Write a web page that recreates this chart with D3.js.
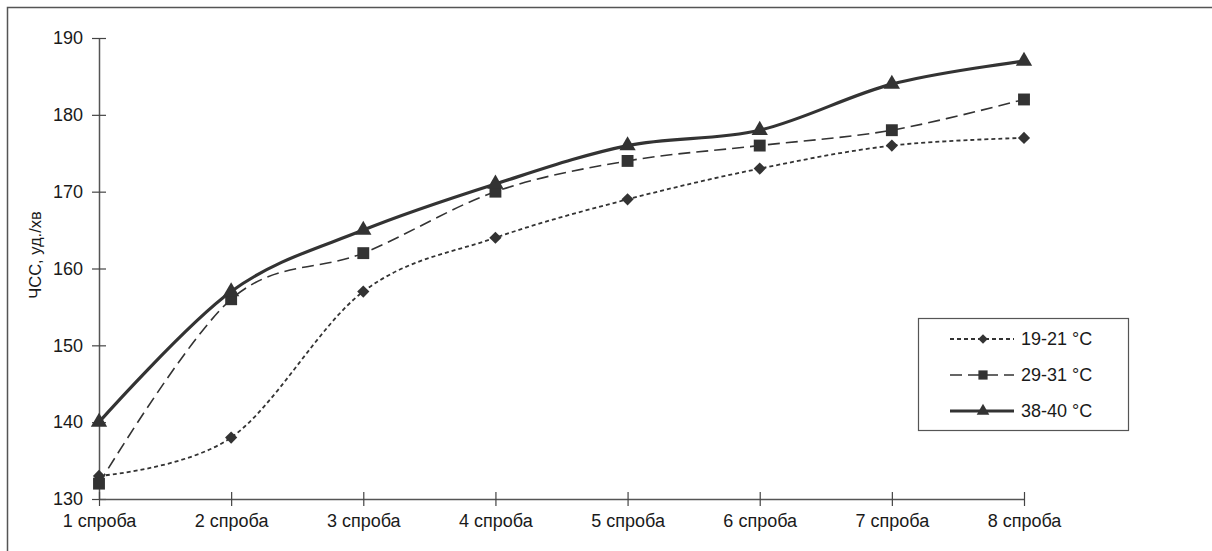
<!DOCTYPE html>
<html><head><meta charset="utf-8">
<script src="https://cdn.jsdelivr.net/npm/d3@7"></script>
<style>body{margin:0;background:#fff}svg{display:block}</style>
</head><body>
<script>
const categories = ["1 спроба","2 спроба","3 спроба","4 спроба","5 спроба","6 спроба","7 спроба","8 спроба"];
const yTicks = [130,140,150,160,170,180,190];
const seriesNames = ["19-21 °C","29-31 °C","38-40 °C"];
const s1 = [133,138,157,164,169,173,176,177];
const s2 = [132,156,162,170,174,176,178,182];
const s3 = [140,157,165,171,176,178,184,187];
const yTitle = "ЧСС, уд./хв";

const W=1212,H=551;
const svg=d3.select("body").append("svg").attr("width",W).attr("height",H);
const col="#333";
svg.append("rect").attr("x",7.5).attr("y",7.5).attr("width",W+20).attr("height",H+20)
  .attr("fill","none").attr("stroke","#555").attr("stroke-width",1.5);

const x=d3.scalePoint().domain(categories).range([99,1024]);
const y=d3.scaleLinear().domain([130,190]).range([499,38]);

const font="'Liberation Sans', Arial, sans-serif";
const ya=svg.append("g").attr("transform","translate(99,0)")
  .call(d3.axisLeft(y).tickValues(yTicks).tickSize(0).tickPadding(16));
ya.select(".domain").attr("stroke","#555").attr("stroke-width",1.5);
ya.selectAll(".tick line").attr("x1",-7).attr("x2",7).attr("stroke","#444").attr("stroke-width",1.2);
ya.selectAll("text").attr("font-family",font).attr("font-size",18).attr("fill","#1a1a1a");

const xa=svg.append("g").attr("transform","translate(0,499)")
  .call(d3.axisBottom(x).tickSize(0).tickPadding(15));
xa.select(".domain").attr("stroke","#555").attr("stroke-width",1.5);
xa.selectAll(".tick line").attr("y1",-7).attr("y2",7).attr("stroke","#444").attr("stroke-width",1.2);
xa.selectAll("text").attr("font-family",font).attr("font-size",18).attr("fill","#1a1a1a");

svg.append("text").attr("transform","translate(41,255) rotate(-90)").attr("text-anchor","middle")
  .attr("font-family",font).attr("font-size",16.5).attr("fill","#1a1a1a").text(yTitle);

const styles=[
  {data:s1,dash:"4,3",w:1.8,sym:d3.symbolDiamond2,size:95},
  {data:s2,dash:"12,6",w:1.6,sym:d3.symbolSquare2,size:180},
  {data:s3,dash:null,w:3.2,sym:d3.symbolTriangle2,size:190}
];
const line=d3.line().x((d,i)=>x(categories[i])).y(d=>y(d)).curve(d3.curveCatmullRom.alpha(0));
styles.forEach(st=>{
  svg.append("path").datum(st.data).attr("d",line).attr("fill","none").attr("stroke",col)
    .attr("stroke-width",st.w).attr("stroke-dasharray",st.dash);
  svg.selectAll(null).data(st.data).enter().append("path")
    .attr("d",d3.symbol().type(st.sym).size(st.size))
    .attr("transform",(d,i)=>`translate(${x(categories[i])},${y(d)})`).attr("fill",col);
});

// legend
const lg=svg.append("g");
lg.append("rect").attr("x",918.5).attr("y",318.5).attr("width",210).attr("height",112)
  .attr("fill","#fff").attr("stroke","#555").attr("stroke-width",1.2);
styles.forEach((st,i)=>{
  const yy=339+i*36;
  lg.append("line").attr("x1",950).attr("x2",1014).attr("y1",yy).attr("y2",yy).attr("stroke",col)
    .attr("stroke-width",st.w).attr("stroke-dasharray",st.dash);
  lg.append("path").attr("d",d3.symbol().type(st.sym).size(st.size*0.6)).attr("transform",`translate(983,${yy})`).attr("fill",col);
  lg.append("text").attr("x",1021).attr("y",yy).attr("dy","0.35em").attr("font-family",font)
    .attr("font-size",18).attr("fill","#1a1a1a").text(seriesNames[i]);
});
</script>
</body></html>
